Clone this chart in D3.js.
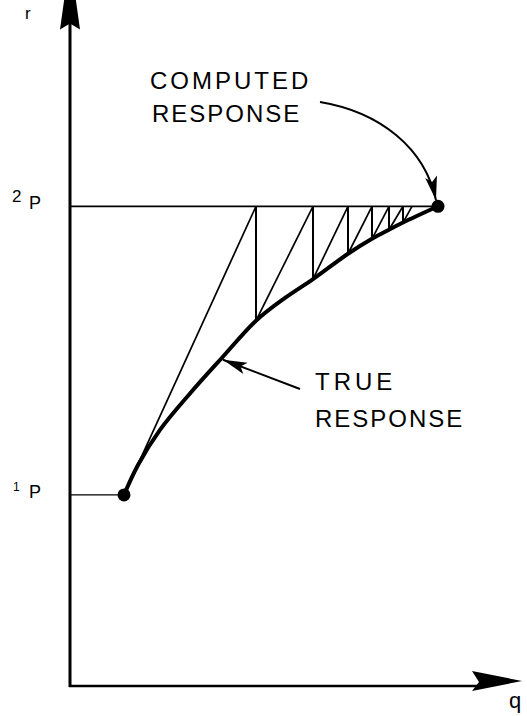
<!DOCTYPE html>
<html><head><meta charset="utf-8">
<script src="https://cdn.jsdelivr.net/npm/d3@7"></script>
<style>body{margin:0;background:#fff}svg{display:block}</style></head>
<body><svg id="c" width="527" height="716"></svg>
<script>
// ---- data (arbitrary q / r units) ----
const trueQ = [13.5, 17, 22.5, 30, 38, 46.5, 53.75, 60.75, 69.5, 75.5, 79.75, 83.25, 92];
const trueR = [29.4, 34.0, 39.4, 45.0, 50.5, 56.2, 59.7, 62.6, 66.5, 68.8, 70.2, 71.3, 73.8];
const stepQ = [46.5, 60.75, 69.5, 75.5, 79.75, 83.25];   // iteration q positions (verticals)
const stepR = [56.2, 62.6, 66.5, 68.8, 70.2, 71.3];      // r at bottom of each vertical
const lastStepQ = 85.5;
const p1 = {q: 13.5, r: 29.4};
const p2 = {q: 92, r: 73.8};
const levelLabels = [{pre: "1", main: "P", r: p1.r}, {pre: "2", main: "P", r: p2.r}];
const axisLabels = {x: "q", y: "r"};
const computedLabel = ["COMPUTED", "RESPONSE"];
const trueLabel = ["TRUE", "RESPONSE"];
const trueArrowQ = 38;

const W = 527, H = 716;
const x = d3.scaleLinear().domain([0, 113]).range([70, 522]);
const y = d3.scaleLinear().domain([0, 106]).range([686, -3]);
const svg = d3.select("#c");
const font = "'Liberation Sans', Arial, sans-serif";

// arrowhead marker
const defs = svg.append("defs");
function marker(id, len, wid) {
  defs.append("marker").attr("id", id).attr("markerUnits", "userSpaceOnUse")
    .attr("viewBox", `${-len-2} ${-wid-2} ${len+4} ${2*wid+4}`)
    .attr("markerWidth", len+4).attr("markerHeight", 2*wid+4)
    .attr("refX", 0).attr("refY", 0).attr("orient", "auto")
    .append("path").attr("d", `M0,0 L${-len},${-wid} L${-len*0.78},0 L${-len},${wid} Z`).attr("fill", "#000");
}
marker("headS", 24, 6);

// axes
const x0 = x(0), yBase = y(0);
svg.append("line").attr("x1", x0).attr("y1", yBase+1).attr("x2", x0).attr("y2", y(102)).attr("stroke", "#000").attr("stroke-width", 3);
svg.append("line").attr("x1", x0-1).attr("y1", yBase).attr("x2", x(103)).attr("y2", yBase).attr("stroke", "#000").attr("stroke-width", 2.5);
// y arrowhead
const ty = y(112), by = y(101);
svg.append("path").attr("d", `M${x0},${ty} L${x0+10},${by} L${x0},${by-6} L${x0-10},${by} Z`).attr("fill", "#000");
// x arrowhead
const tx = x(113), bx = x(100.5);
svg.append("path").attr("d", `M${tx},${yBase-5} L${bx},${yBase-15} L${bx+7},${yBase-4} L${bx},${yBase+5} Z`).attr("fill", "#000");

svg.append("text").attr("x", 25).attr("y", 19).attr("font-family", font).attr("font-size", 17).text(axisLabels.y);
svg.append("text").attr("x", tx-13).attr("y", yBase+22).attr("font-family", font).attr("font-size", 22).text(axisLabels.x);

// level lines
svg.append("line").attr("x1", x0).attr("x2", x(p2.q)).attr("y1", y(p2.r)).attr("y2", y(p2.r)).attr("stroke", "#000").attr("stroke-width", 1.8);
svg.append("line").attr("x1", x0).attr("x2", x(p1.q)).attr("y1", y(p1.r)).attr("y2", y(p1.r)).attr("stroke", "#000").attr("stroke-width", 1.3);

// level labels
levelLabels.forEach((d, i) => {
  const yy = y(d.r);
  const t = svg.append("text").attr("font-family", font);
  if (i === 0) {
    t.append("tspan").attr("x", 13).attr("y", yy-4).attr("font-size", 12).text(d.pre);
  } else {
    t.append("tspan").attr("x", 12).attr("y", yy-4).attr("font-size", 17).text(d.pre);
  }
  svg.append("text").attr("font-family", font).attr("x", 29).attr("y", yy+3).attr("font-size", 18).text(d.main);
});

// computed response (secant iteration)
const diag = [[[p1.q, p1.r], [stepQ[0], p2.r]]];
stepQ.forEach((q, i) => {
  svg.append("line").attr("x1", x(q)).attr("x2", x(q)).attr("y1", y(p2.r)).attr("y2", y(stepR[i]))
    .attr("stroke", "#000").attr("stroke-width", 2);
  const nq = i < stepQ.length-1 ? stepQ[i+1] : lastStepQ;
  diag.push([[q, stepR[i]], [nq, p2.r]]);
});
diag.forEach(s => {
  svg.append("line").attr("x1", x(s[0][0])).attr("y1", y(s[0][1])).attr("x2", x(s[1][0])).attr("y2", y(s[1][1]))
    .attr("stroke", "#000").attr("stroke-width", 1.7);
});

// true response curve
const pts = trueQ.map((q, i) => [q, trueR[i]]);
svg.append("path").datum(pts)
  .attr("d", d3.line().x(d => x(d[0])).y(d => y(d[1])).curve(d3.curveCatmullRom.alpha(0.5)))
  .attr("fill", "none").attr("stroke", "#000").attr("stroke-width", 4).attr("stroke-linecap", "round");

// dots
[p1, p2].forEach(p => svg.append("circle").attr("cx", x(p.q)).attr("cy", y(p.r)).attr("r", 6.5).attr("fill", "#000"));

// labels
const lab = (txt, xx, yy, ls) => svg.append("text").attr("x", xx).attr("y", yy).attr("font-family", font)
  .attr("font-size", 24).attr("letter-spacing", ls).text(txt);
lab(computedLabel[0], 150, 89, 3);
lab(computedLabel[1], 152, 122, 2);
lab(trueLabel[0], 315, 390, 4);
lab(trueLabel[1], 315, 427, 2);

// computed arrow (curved)
const ex = x(p2.q) - 2, ey = y(p2.r) - 6;
svg.append("path").attr("d", `M320,102 C380,112 425,148 ${ex},${ey}`)
  .attr("fill", "none").attr("stroke", "#000").attr("stroke-width", 2).attr("marker-end", "url(#headS)");
// true arrow
const tq = trueArrowQ;
const ti = d3.bisector(d => d).left(trueQ, tq);
svg.append("line").attr("x1", 300).attr("y1", 389).attr("x2", x(tq)+1).attr("y2", y(trueR[ti])+2)
  .attr("stroke", "#000").attr("stroke-width", 2).attr("marker-end", "url(#headS)");
</script></body></html>
